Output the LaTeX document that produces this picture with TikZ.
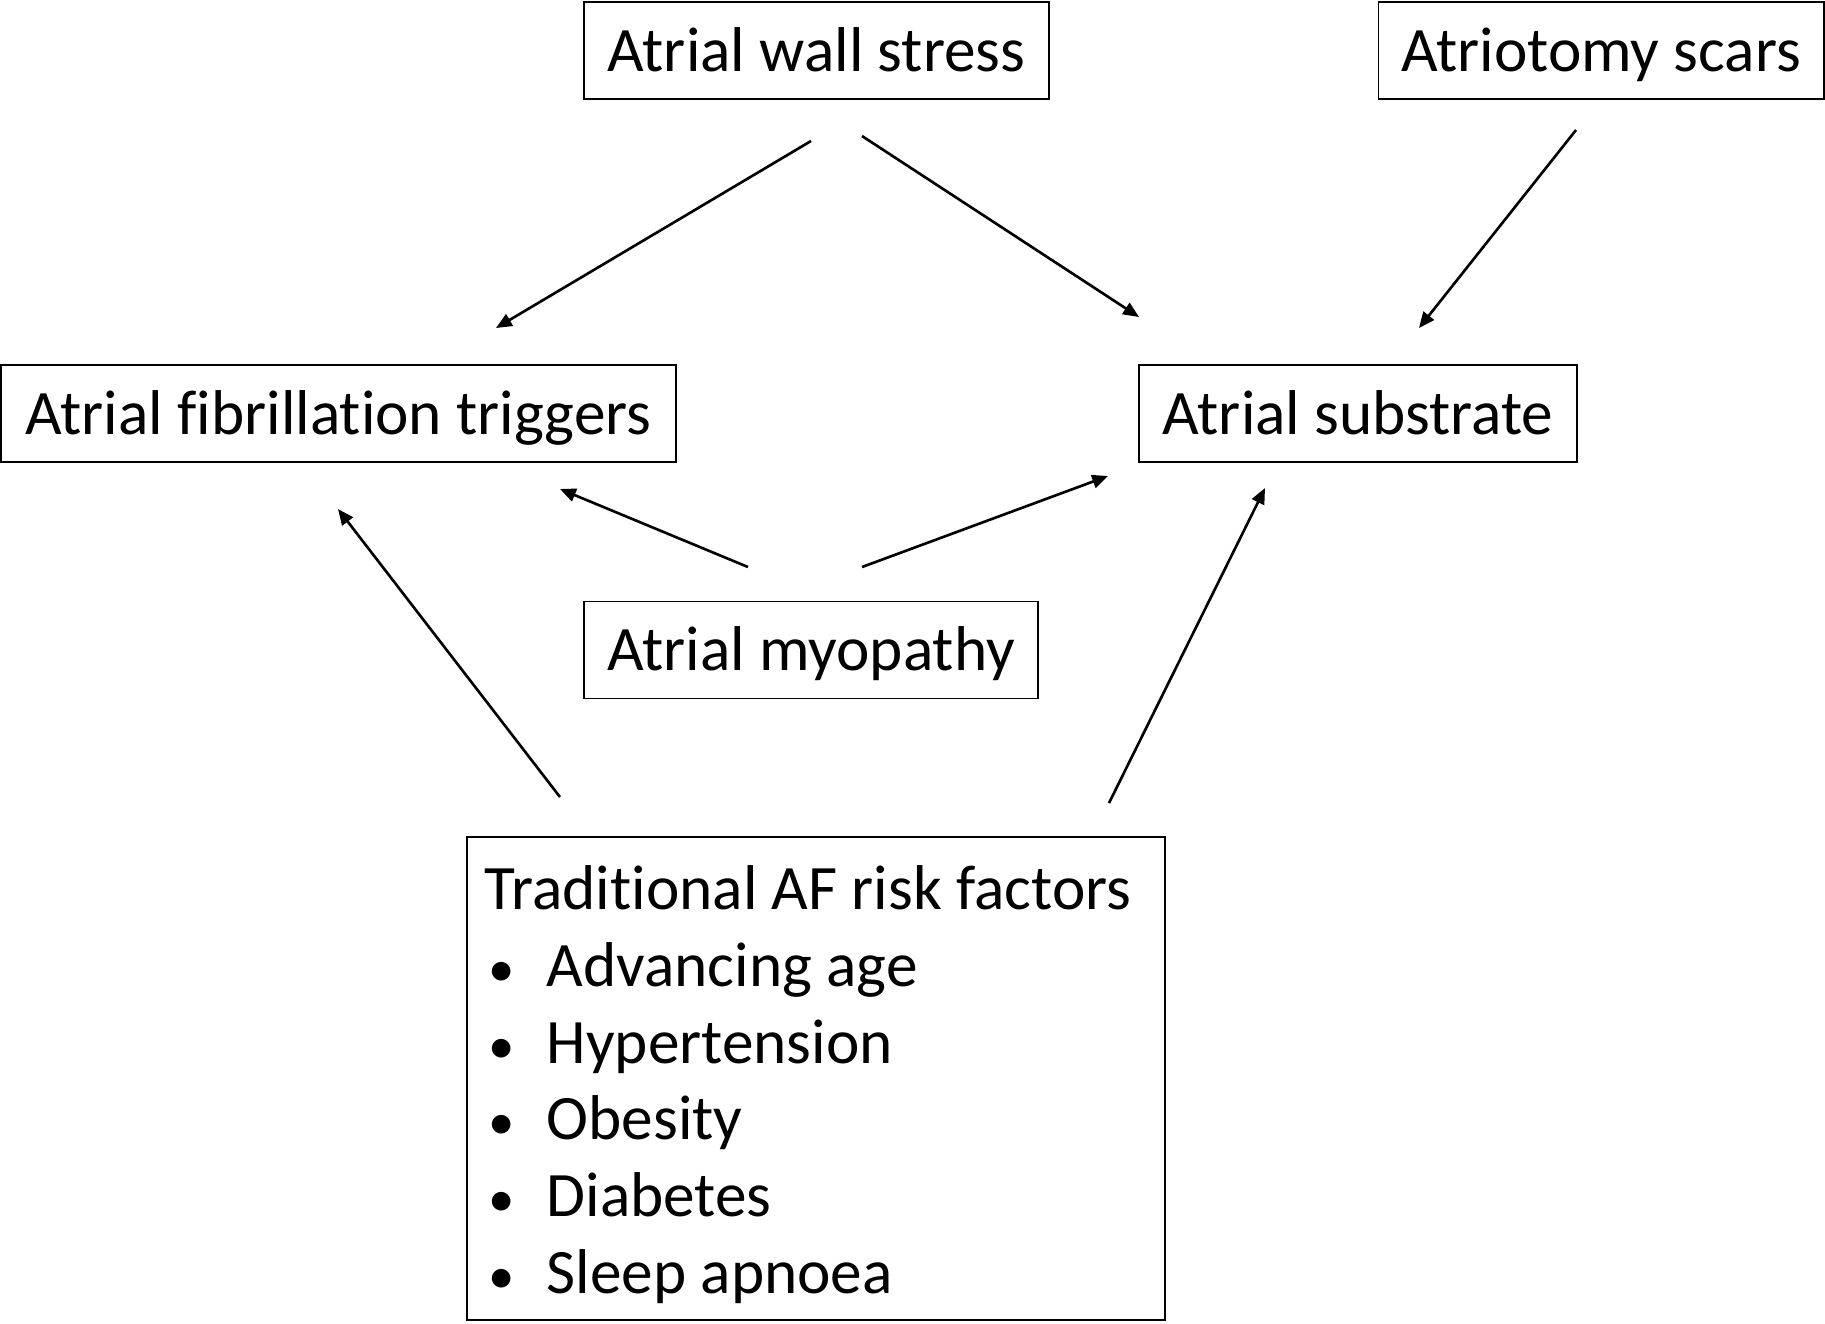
\documentclass[tikz,border=0pt]{standalone}
\usepackage{fontspec}
\setmainfont{Carlito}[Ligatures=NoCommon]
\usetikzlibrary{arrows.meta}
\newcommand{\riskitem}[1]{\makebox[0.62cm][l]{\hspace*{0.04cm}\fontsize{15}{15}\selectfont\textbullet}#1}
\begin{document}
\begin{tikzpicture}[x=0.01cm,y=-0.01cm,every node/.style={draw,line width=0.5pt,inner sep=0pt,font=\fontsize{18}{21.8}\selectfont},box/.style={minimum height=0.97cm,text height=0.41cm,text depth=0pt},arr/.style={line width=0.75pt,-{Triangle[length=4.5pt,width=3.8pt]}}]
\useasboundingbox (0,0) rectangle (1825,1323);
\node[box,minimum width=4.65cm] (wallstress) at (816.5,50.5) {Atrial wall stress};
\node[box,minimum width=4.45cm] (scars) at (1601,50.5) {Atriotomy scars};
\node[box,minimum width=6.75cm] (triggers) at (338.5,413.5) {Atrial fibrillation triggers};
\node[box,minimum width=4.38cm] (substrate) at (1358,413.5) {Atrial substrate};
\node[box,minimum width=4.54cm] (myopathy) at (811,650) {Atrial myopathy};
\node[minimum width=6.98cm,minimum height=4.83cm,align=left] (riskfactors) at (816,1078.5) {\rule{0pt}{0.56cm}Traditional AF risk factors\hspace*{0.16cm}\\
\riskitem{Advancing age}\\
\riskitem{Hypertension}\\
\riskitem{Obesity}\\
\riskitem{Diabetes}\\
\riskitem{Sleep apnoea}};
\coordinate (wallstress-l) at (811,141);
\coordinate (wallstress-r) at (862,136);
\coordinate (scars-s) at (1576,130);
\coordinate (myopathy-l) at (748,567);
\coordinate (myopathy-r) at (862,567);
\coordinate (riskfactors-l) at (560,797);
\coordinate (riskfactors-r) at (1109,803);
\coordinate (triggers-n) at (496,328);
\coordinate (triggers-e) at (560,489);
\coordinate (triggers-s) at (338,509);
\coordinate (substrate-n) at (1139,317);
\coordinate (substrate-ne) at (1419,328);
\coordinate (substrate-w) at (1108,476);
\coordinate (substrate-s) at (1265,488);
\draw[arr] (wallstress-l) -- (triggers-n);
\draw[arr] (wallstress-r) -- (substrate-n);
\draw[arr] (scars-s) -- (substrate-ne);
\draw[arr] (myopathy-l) -- (triggers-e);
\draw[arr] (myopathy-r) -- (substrate-w);
\draw[arr] (riskfactors-l) -- (triggers-s);
\draw[arr] (riskfactors-r) -- (substrate-s);
\end{tikzpicture}
\end{document}
